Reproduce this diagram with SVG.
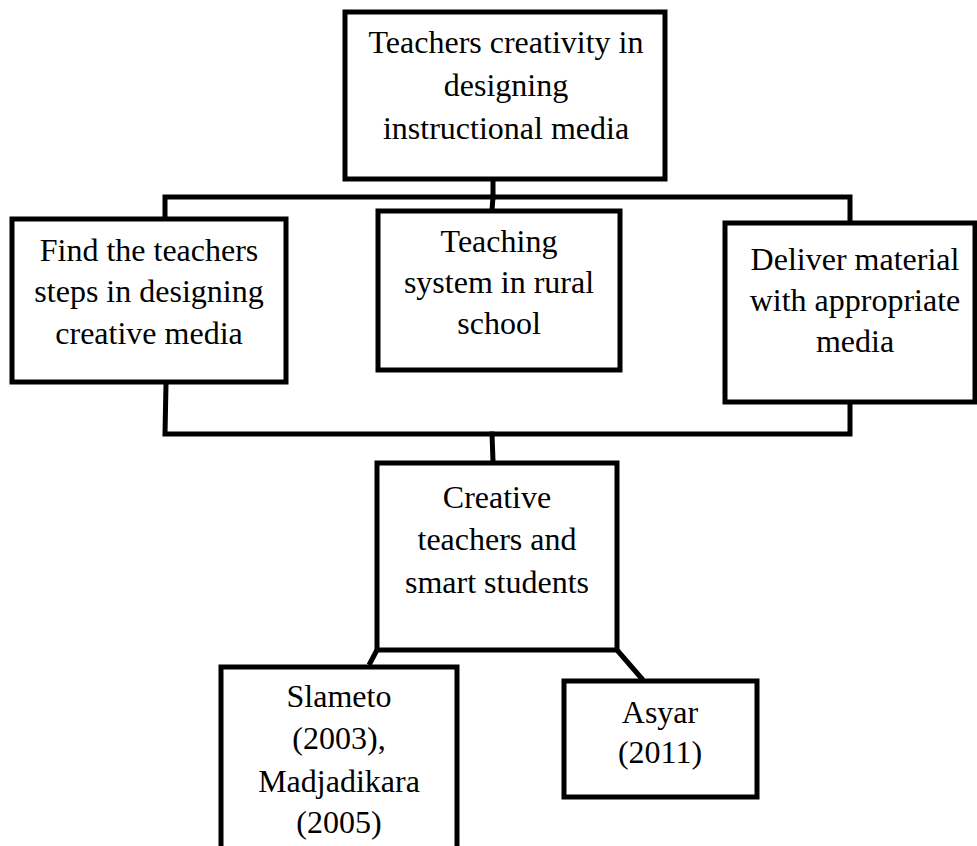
<svg xmlns="http://www.w3.org/2000/svg" width="977" height="846" viewBox="0 0 977 846">
<style>
.box{fill:#fff;stroke:#000;stroke-width:5}
.c{fill:none;stroke:#000;stroke-width:5;stroke-linejoin:miter;stroke-linecap:square}
text{font-family:"Liberation Serif","Times New Roman",serif;font-size:32px;fill:#000;text-anchor:middle}
</style>
<rect width="977" height="846" fill="#fff"/>
<g id="connectors">
<polyline class="c" points="493,180 493,197"/>
<polyline class="c" points="165,218 165,197 850,197 850,222"/>
<polyline class="c" points="493,197 492,210"/>
<polyline class="c" points="166,384 165,434 850,434 850,404"/>
<polyline class="c" points="492,434 493,461"/>
<line class="c" x1="377" y1="650" x2="369" y2="665" style="stroke-linecap:butt"/>
<line class="c" x1="617" y1="650" x2="643" y2="680" style="stroke-linecap:butt"/>
</g>
<g id="top">
<rect class="box" x="345" y="12" width="320" height="167"/>
<text x="506" y="53">Teachers creativity in</text>
<text x="506" y="96">designing</text>
<text x="506" y="139">instructional media</text>
</g>
<g id="left">
<rect class="box" x="12" y="219" width="274" height="163"/>
<text x="149" y="261">Find the teachers</text>
<text x="149" y="302">steps in designing</text>
<text x="149" y="344">creative media</text>
</g>
<g id="middle">
<rect class="box" x="378" y="211" width="242" height="159"/>
<text x="499" y="252">Teaching</text>
<text x="499" y="293">system in rural</text>
<text x="499" y="334">school</text>
</g>
<g id="right">
<rect class="box" x="725" y="223" width="250" height="179"/>
<text x="855" y="270">Deliver material</text>
<text x="855" y="311">with appropriate</text>
<text x="855" y="352">media</text>
</g>
<g id="creative">
<rect class="box" x="377" y="463" width="240" height="187"/>
<text x="497" y="508">Creative</text>
<text x="497" y="550">teachers and</text>
<text x="497" y="593">smart students</text>
</g>
<g id="slameto">
<rect class="box" x="221" y="667" width="236" height="200"/>
<text x="339" y="707">Slameto</text>
<text x="339" y="749">(2003),</text>
<text x="339" y="792">Madjadikara</text>
<text x="339" y="833">(2005)</text>
</g>
<g id="asyar">
<rect class="box" x="564" y="681" width="193" height="116"/>
<text x="660" y="723">Asyar</text>
<text x="660" y="763">(2011)</text>
</g>
</svg>
